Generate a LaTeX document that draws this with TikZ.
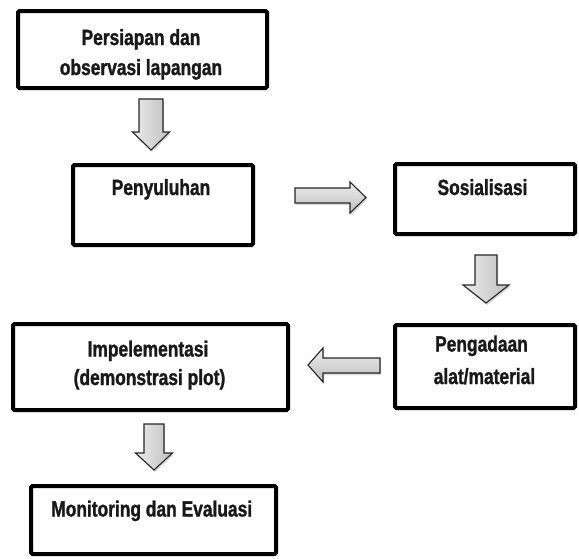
\documentclass[tikz,border=0pt]{standalone}
\usepackage{fontspec}
\newfontfamily\lblfont{Liberation Sans Bold}[FakeStretch=0.79,FakeBold=1.3]
\usetikzlibrary{shadows}
\tikzset{
  box/.style={draw=black, line width=4pt, rounded corners=1.5pt, inner sep=0pt},
  lbl/.style={anchor=base, inner sep=0pt, text=black!90,
    font=\lblfont\fontsize{22}{26}\selectfont},
  blockarrow/.style={draw=black!85, line width=1.1pt, line join=miter,
    drop shadow={opacity=0.3, shadow xshift=1.2pt, shadow yshift=-2pt}},
}
\newcommand\myDownArrow[6]{%
  \draw[blockarrow, left color=gray!15, right color=gray!50]
    (#1-#5,#2) -- (#1+#5,#2) -- (#1+#5,#3) -- (#1+#6,#3) -- (#1,#4)
    -- (#1-#6,#3) -- (#1-#5,#3) -- cycle;}
\begin{document}
\begin{tikzpicture}[x=1pt,y=-1pt]
\useasboundingbox (0,0) rectangle (579,558);
% boxes
\node[box, minimum width=249pt, minimum height=77pt] (b1) at (142.5,49.5) {};
\node[box, minimum width=180pt, minimum height=80pt] (b2) at (163,205) {};
\node[box, minimum width=180pt, minimum height=70pt] (b3) at (485,199) {};
\node[box, minimum width=180pt, minimum height=83pt] (b4) at (485,366.5) {};
\node[box, minimum width=275pt, minimum height=86pt] (b5) at (150.5,367) {};
\node[box, minimum width=245pt, minimum height=68pt] (b6) at (153.5,520) {};
% texts
\node[lbl] (t1a) at (141,45) {Persiapan dan};
\node[lbl] (t1b) at (141,75) {observasi lapangan};
\node[lbl] (t2) at (161,195) {Penyuluhan};
\node[lbl] (t3) at (482.5,195) {Sosialisasi};
\node[lbl] (t4a) at (481.5,351.5) {Pengadaan};
\node[lbl] (t4b) at (484.5,384) {alat/material};
\node[lbl] (t5a) at (148,356.5) {Impelementasi};
\node[lbl] (t5b) at (149.5,385) {(demonstrasi plot)};
\node[lbl] (t6) at (151.7,516.5) {Monitoring dan Evaluasi};
% block arrows
\myDownArrow{151}{99}{132}{150}{12}{18.5}
\myDownArrow{486}{255}{285}{303}{11}{23}
\myDownArrow{154}{424}{453}{470}{10}{18.5}
\draw[blockarrow, top color=gray!15, bottom color=gray!50]
  (295,188) -- (350,188) -- (350,182) -- (366,197.5) -- (350,213)
  -- (350,203) -- (295,203) -- cycle;
\draw[blockarrow, top color=gray!15, bottom color=gray!50]
  (380,358) -- (323,358) -- (323,348) -- (308,365) -- (323,382)
  -- (323,373) -- (380,373) -- cycle;
\end{tikzpicture}
\end{document}
